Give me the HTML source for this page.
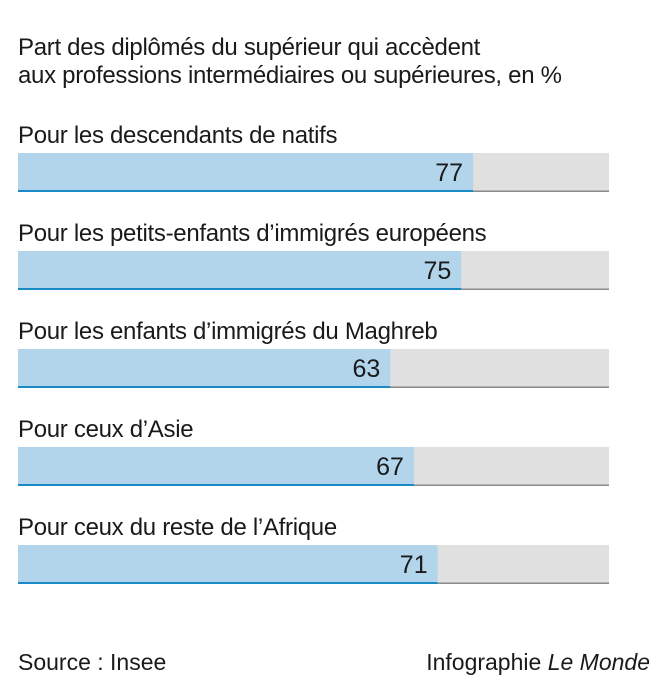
<!DOCTYPE html>
<html><head><meta charset="utf-8"><style>
body{margin:0;background:#fff;width:664px;height:690px;overflow:hidden;font-family:"Liberation Sans",sans-serif;color:#1a1a1a}
.t{position:absolute;left:18px;font-size:24px;line-height:28px}
</style></head><body>
<div class="t" style="top:34px;letter-spacing:-0.3px">Part des diplômés du supérieur qui accèdent<br>aux professions intermédiaires ou supérieures, en %</div>
<svg id="c" width="664" height="690" style="position:absolute;left:0;top:0"></svg>
<div class="t" style="top:648px;font-size:23px">Source : Insee</div>
<div class="t" style="top:648px;left:auto;right:14px;font-size:23px">Infographie <i>Le Monde</i></div>
<script>
const categories=["Pour les descendants de natifs","Pour les petits-enfants d’immigrés européens","Pour les enfants d’immigrés du Maghreb","Pour ceux d’Asie","Pour ceux du reste de l’Afrique"];
const values=[77,75,63,67,71];
const maxValue=100;
const svg=document.getElementById('c');const NS='http://www.w3.org/2000/svg';
const x0=18,x1=609,y0=153,step=98,h=39;
const xs=v=>x0+(x1-x0)*v/maxValue;
function mk(t,a){const e=document.createElementNS(NS,t);for(const k in a)e.setAttribute(k,a[k]);svg.appendChild(e);return e;}
categories.forEach((c,i)=>{
const y=y0+i*step;
const l=mk('text',{x:18,y:y-10,'font-size':24,fill:'#1a1a1a','letter-spacing':'-0.3'});l.textContent=c;


const bg=mk('rect',{x:x0,y:y,width:x1-x0,height:h,fill:'#e0e0e0'});


mk('rect',{x:x0,y:y+h-1.5,width:x1-x0,height:1.5,fill:'#8a8a8a'});
const b=mk('rect',{x:x0,y:y,width:xs(values[i])-x0,height:h,fill:'#b2d5eb'});


mk('rect',{x:x0,y:y+h-2,width:xs(values[i])-x0,height:2,fill:'#1a8ac6'});
const v=mk('text',{x:xs(values[i])-10,y:y+28,'font-size':25,'text-anchor':'end',fill:'#1a1a1a'});v.textContent=values[i];


});
</script>
</body></html>
